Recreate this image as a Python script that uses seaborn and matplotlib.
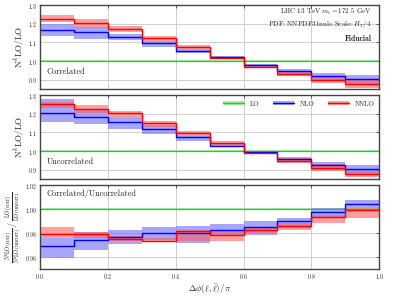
import numpy as np
import pandas as pd
import matplotlib
matplotlib.use("Agg")
import matplotlib.pyplot as plt
from matplotlib.patches import Patch
from matplotlib.lines import Line2D
import seaborn as sns

# bin edges in dphi/pi
edges = [0.0, 0.1, 0.2, 0.3, 0.4, 0.5, 0.6, 0.7, 0.8, 0.9, 1.0]

# correlated ratio to LO
nlo_corr = [1.169, 1.155, 1.131, 1.097, 1.055, 1.020, 0.978, 0.949, 0.918, 0.905]
nlo_corr_lo = [1.133, 1.119, 1.115, 1.073, 1.046, 1.012, 0.970, 0.933, 0.891, 0.873]
nlo_corr_hi = [1.197, 1.182, 1.146, 1.109, 1.064, 1.026, 0.985, 0.960, 0.937, 0.927]
nnlo_corr = [1.228, 1.206, 1.173, 1.124, 1.073, 1.016, 0.969, 0.931, 0.900, 0.878]
nnlo_corr_lo = [1.209, 1.177, 1.155, 1.109, 1.064, 1.010, 0.962, 0.922, 0.882, 0.855]
nnlo_corr_hi = [1.245, 1.224, 1.188, 1.133, 1.086, 1.024, 0.975, 0.940, 0.915, 0.900]

# uncorrelated ratio to LO
nlo_unc = [1.202, 1.184, 1.154, 1.116, 1.073, 1.028, 0.993, 0.957, 0.925, 0.904]
nlo_unc_lo = [1.157, 1.143, 1.116, 1.089, 1.055, 1.020, 0.985, 0.946, 0.898, 0.877]
nlo_unc_hi = [1.277, 1.220, 1.184, 1.139, 1.086, 1.045, 1.000, 0.970, 0.943, 0.925]
nnlo_unc = [1.250, 1.225, 1.202, 1.152, 1.098, 1.041, 0.988, 0.946, 0.911, 0.875]
nnlo_unc_lo = [1.229, 1.205, 1.180, 1.130, 1.086, 1.030, 0.982, 0.937, 0.895, 0.862]
nnlo_unc_hi = [1.264, 1.246, 1.216, 1.162, 1.109, 1.053, 0.995, 0.961, 0.930, 0.895]

# correlated / uncorrelated double ratio
nlo_rat = [0.9689, 0.9744, 0.9767, 0.9800, 0.9800, 0.9828, 0.9850, 0.9897, 0.9975, 1.0044]
nlo_rat_lo = [0.9590, 0.9660, 0.9710, 0.9744, 0.9717, 0.9772, 0.9786, 0.9842, 0.9925, 1.0008]
nlo_rat_hi = [0.9760, 0.9805, 0.9828, 0.9850, 0.9855, 0.9878, 0.9897, 0.9925, 1.0008, 1.0072]
nnlo_rat = [0.9794, 0.9790, 0.9750, 0.9736, 0.9814, 0.9786, 0.9828, 0.9861, 0.9930, 0.9994]
nnlo_rat_lo = [0.9763, 0.9760, 0.9730, 0.9722, 0.9730, 0.9730, 0.9800, 0.9828, 0.9883, 0.9925]
nnlo_rat_hi = [0.9850, 0.9810, 0.9778, 0.9758, 0.9828, 0.9814, 0.9847, 0.9883, 0.9953, 1.0008]

lo_val = [1.0] * 10

x_ticks = [0.0, 0.2, 0.4, 0.6, 0.8, 1.0]
y_ticks_main = [0.9, 1.0, 1.1, 1.2, 1.3]
y_ticks_ratio = [0.96, 0.98, 1.00, 1.02]

sns.set_style("whitegrid", {"grid.color": "#c8c8c8", "axes.edgecolor": "#444444",
                            "xtick.direction": "in", "ytick.direction": "in"})
plt.rcParams["font.family"] = ["cmr10", "DejaVu Serif"]
plt.rcParams["mathtext.fontset"] = "cm"
plt.rcParams["axes.formatter.use_mathtext"] = True

C_LO, C_NLO, C_NNLO = "#22cc22", "#0000ff", "#ff0000"
B_LO, B_NLO, B_NNLO = "#88e888", "#8080ff", "#ff6060"


def ext(v):
    return list(v) + [v[-1]]


def draw_series(ax, vals, lo, hi, line_c, band_c, alpha, lw=1.0):
    ax.fill_between(edges, ext(lo), ext(hi), step="post", color=band_c,
                    alpha=alpha, linewidth=0)
    df = pd.DataFrame({"x": edges, "y": ext(vals)})
    sns.lineplot(data=df, x="x", y="y", ax=ax, color=line_c, lw=lw,
                 drawstyle="steps-post", estimator=None, legend=False)


def tlabels(vals, fmt):
    return ["$" + fmt.format(v) + "$" for v in vals]


fig = plt.figure(figsize=(3.99, 2.99), dpi=100)
L, W, H = 0.1003, 0.85, 0.281
ax1 = fig.add_axes([L, 0.702, W, H])
ax2 = fig.add_axes([L, 0.401, W, H])
ax3 = fig.add_axes([L, 0.100, W, H])

panels = [
    (ax1, nlo_corr, nlo_corr_lo, nlo_corr_hi, nnlo_corr, nnlo_corr_lo, nnlo_corr_hi),
    (ax2, nlo_unc, nlo_unc_lo, nlo_unc_hi, nnlo_unc, nnlo_unc_lo, nnlo_unc_hi),
    (ax3, nlo_rat, nlo_rat_lo, nlo_rat_hi, nnlo_rat, nnlo_rat_lo, nnlo_rat_hi),
]
for ax, n1, n1lo, n1hi, n2, n2lo, n2hi in panels:
    lo_w = 0.004 if ax is not ax3 else 0.0006
    draw_series(ax, lo_val, [v - lo_w for v in lo_val], [v + lo_w for v in lo_val],
                C_LO, B_LO, 0.7, lw=0.9)
    draw_series(ax, n1, n1lo, n1hi, C_NLO, B_NLO, 0.7)
    draw_series(ax, n2, n2lo, n2hi, C_NNLO, B_NNLO, 0.6)
    ax.set_xlim(0, 1)
    ax.set_xticks(x_ticks)
    ax.tick_params(axis="both", labelsize=4.2, length=2.5, width=0.6, pad=2,
                   top=True, right=True, color="#444444")
    ax.grid(True, color="#c8c8c8", lw=0.6)
    for s in ax.spines.values():
        s.set_linewidth(1.0)
    ax.set_xlabel("")
    ax.set_ylabel("")

for ax in (ax1, ax2):
    ax.set_ylim(0.85, 1.3)
    ax.set_yticks(y_ticks_main)
    ax.set_yticklabels(tlabels(y_ticks_main, "{:.1f}"))
    ax.set_xticklabels([])
    ax.set_ylabel(r"N$^k$LO/LO", fontsize=6.5, labelpad=1)

ax3.set_ylim(0.95, 1.02)
ax3.set_yticks(y_ticks_ratio)
ax3.set_yticklabels(tlabels(y_ticks_ratio, "{:.2f}"))
ax3.set_xticklabels(tlabels(x_ticks, "{:.1f}"))
ax3.set_ylabel(r"$\frac{\mathrm{N^kLO(corr)}}{\mathrm{N^kLO(uncorr)}}\ /\ "
               r"\frac{\mathrm{LO(corr)}}{\mathrm{LO(uncorr)}}$", fontsize=5.5, labelpad=0)
ax3.set_xlabel(r"$\Delta\phi(\ell,\bar{\ell})/\pi$", fontsize=6.5, labelpad=1)

ax1.text(0.978, 0.913, r"LHC 13 TeV $m_t = 172.5$ GeV", transform=ax1.transAxes,
         ha="right", va="center", fontsize=5)
ax1.text(0.978, 0.77, r"PDF: NNPDF31nnlo Scale: $H_T/4$", transform=ax1.transAxes,
         ha="right", va="center", fontsize=5)
ax1.text(0.978, 0.595, "Fiducial", transform=ax1.transAxes, ha="right", va="center",
         fontsize=5.5, family=["cmb10", "DejaVu Serif"])
ax1.text(0.02, 0.206, "Correlated", transform=ax1.transAxes, ha="left", va="center",
         fontsize=6)
ax2.text(0.02, 0.206, "Uncorrelated", transform=ax2.transAxes, ha="left", va="center",
         fontsize=6)
ax3.text(0.02, 0.90, "Correlated/Uncorrelated", transform=ax3.transAxes, ha="left",
         va="center", fontsize=6)

handles = [
    (Patch(color=B_LO, alpha=0.7, lw=0), Line2D([], [], color=C_LO, lw=1)),
    (Patch(color=B_NLO, alpha=0.7, lw=0), Line2D([], [], color=C_NLO, lw=1)),
    (Patch(color=B_NNLO, alpha=0.6, lw=0), Line2D([], [], color=C_NNLO, lw=1)),
]
ax2.legend(handles, ["LO", "NLO", "NNLO"], loc="upper right", ncol=3, frameon=False,
           fontsize=5, handlelength=3, handleheight=0.6, columnspacing=2.0,
           borderaxespad=0.3, bbox_to_anchor=(1.0, 0.99))

fig.savefig("out.png", dpi=100)
